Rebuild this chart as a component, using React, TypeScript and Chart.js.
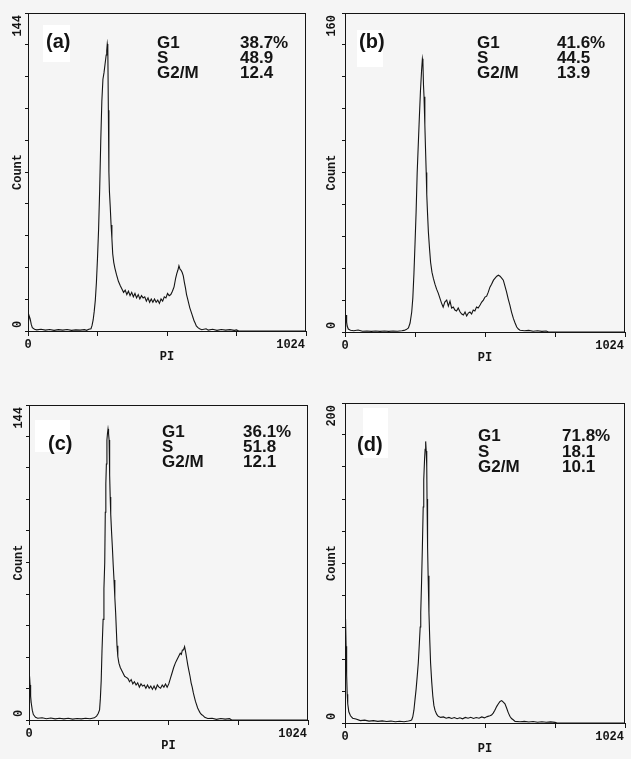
import React, { useEffect, useRef } from "react";
import { Chart, registerables } from "chart.js";

Chart.register(...registerables);

// ---------- DATA (channel, count) ----------
const histA: [number, number][] = [[0,2],[4,7],[8,5.5],[12,3],[16,1.5],[24,0.8],[32,0.5],[48,0.8],[64,0.4],[80,0.7],[96,0.3],[112,0.6],[128,0.4],[144,0.7],[160,0.3],[176,0.5],[192,0.4],[208,0.6],[216,0.3],[224,0.8],[232,1],[236,2.5],[240,5],[244,9],[248,14],[252,22],[256,33],[260,46],[264,64],[268,86],[272,104],[276,114],[280,117],[284,121],[288,125],[290,127],[292,130],[294,128],[296,100],[298,72],[300,63],[303,56],[306,48],[309,42],[312,35],[316,31],[320,28.5],[326,25.5],[333,22.5],[340,20.5],[346,19],[352,17.5],[358,18.5],[364,16.5],[370,18],[376,16],[382,17.5],[388,15.5],[394,17],[400,15],[406,16.5],[412,14.5],[418,16],[424,15],[430,15.5],[436,13.5],[442,15],[448,13],[454,14.5],[460,13],[466,14.5],[472,13],[478,14],[484,12.5],[490,14.5],[496,13.5],[502,15.5],[508,15],[514,17],[520,16],[526,16.5],[532,18],[538,20],[544,24],[548,26],[552,27.5],[556,29.5],[560,28],[564,27.5],[568,26.5],[572,25],[576,22],[580,19.5],[584,16.5],[588,14.5],[592,12.5],[596,10.5],[600,9],[604,7.5],[608,6],[612,4.5],[616,3.5],[620,2.3],[626,1.5],[632,1],[640,0.6],[656,1],[664,0.4],[680,0.8],[696,0.3],[712,0.7],[728,0.4],[744,0.6],[760,0.3],[768,0.5],[776,0],[1024,0]];

const histB: [number, number][] = [[0,1],[2,6],[4,8.5],[6,5],[8,3],[12,1.5],[20,0.9],[32,0.6],[48,1],[64,0.4],[80,0.5],[96,0.3],[112,0.5],[128,0.3],[144,0.5],[160,0.3],[176,0.5],[192,0.4],[208,0.6],[216,0.8],[224,1.2],[232,2],[238,4.5],[244,10],[248,17],[252,29],[256,44],[260,60],[264,80],[268,94],[272,108],[276,121],[280,131],[283,137],[285,135],[287,124],[289,118],[292,104],[294,94],[297,80],[299,69],[302,59],[305,50],[309,42],[313,35],[318,30],[323,27],[329,24],[335,21.5],[341,19.5],[347,17],[353,14.5],[359,12.5],[365,15],[372,16],[378,13],[384,15.5],[390,12],[396,12.5],[402,11],[408,10.5],[414,12],[421,10],[427,9],[433,8.5],[439,10],[445,8],[451,9.5],[457,10],[463,9],[469,11],[475,10.5],[481,12.5],[487,12],[494,13.5],[500,15],[506,16],[512,17.5],[518,18],[524,20],[530,22.5],[536,24],[543,26],[549,27],[555,28],[561,28.5],[567,28],[573,27],[579,26],[585,23],[591,20],[597,16.5],[603,13.5],[609,10],[616,6.7],[622,4.5],[628,2.5],[634,1.5],[640,0.9],[656,0.6],[672,0.8],[688,0.4],[704,0.6],[720,0.3],[736,0.5],[744,0],[1024,0]];

const histC: [number, number][] = [[0,8],[2,20],[4,16],[6,11],[8,8],[12,4.5],[16,2.5],[24,1.2],[32,0.8],[48,1],[64,0.6],[80,0.9],[96,0.5],[112,0.8],[128,0.5],[144,0.8],[160,0.4],[176,0.7],[192,0.5],[208,0.8],[224,0.6],[240,1],[248,1.8],[254,3],[259,4.6],[262,10],[265,18],[268,32],[272,46],[275,60],[278,72],[280,95],[282,108],[284,117],[286,128],[288,131],[290,133],[292,131],[294,128],[296,112],[298,102],[300,94],[303,86],[306,79],[309,71],[312,64],[315,56],[318,49],[321,40],[323,34],[326,29],[330,26],[335,24],[339,23],[345,21.5],[351,20],[357,19.5],[363,19],[369,17.5],[375,18.5],[381,16.5],[387,17.5],[393,16],[399,17],[405,15],[411,16.5],[417,15.5],[423,16],[429,14.5],[435,16],[441,14.5],[447,15.5],[453,14],[459,15.5],[465,14],[471,16],[477,15],[483,14.5],[489,16],[495,15],[501,16.5],[507,15],[513,16.5],[519,19],[525,21.5],[531,24],[537,26],[543,27.5],[549,29],[555,30.5],[559,30],[563,32],[567,32],[571,33.5],[575,31],[579,28],[583,25],[587,22.5],[591,20],[595,17],[599,15],[603,12.5],[607,10.5],[611,8.5],[615,7],[619,5.5],[623,4.5],[627,3.5],[633,2.5],[639,2],[645,1.2],[656,0.7],[672,0.8],[688,0.3],[704,0.7],[720,0.4],[736,0.6],[744,0],[1024,0]];

const histD: [number, number][] = [[0,60],[2,65],[4,48],[6,30],[8,18],[10,12],[14,7],[20,4.5],[28,3],[40,2.5],[56,1.5],[72,1.8],[88,1.2],[104,1.5],[120,1],[136,1.3],[152,0.9],[168,1.2],[184,0.8],[200,1.1],[216,0.8],[232,1.2],[240,1.5],[244,2],[248,4],[252,8],[256,14.6],[260,21],[264,29],[268,37.5],[272,50],[275,60],[277,69],[280,88],[283,110],[286,135],[288,152],[291,165],[293,171],[295,176],[297,170],[299,160],[300,140],[302,110],[304,92],[307,69],[310,52],[313,37.5],[317,26],[321,17],[325,11],[329,8],[335,5.5],[341,4.2],[350,3.5],[360,3.8],[370,3],[380,3.5],[390,2.8],[400,3.4],[410,2.7],[420,3.3],[430,2.6],[440,3.5],[450,3],[460,3.6],[470,2.8],[480,3.4],[490,3],[500,3.8],[510,3.2],[520,4],[530,4.5],[536,5],[542,6.2],[548,8],[555,10.4],[561,12],[567,13.5],[573,14],[579,13],[585,12],[591,9.4],[597,6.5],[603,4.2],[609,2.8],[615,2],[622,1],[640,0.8],[656,1],[672,0.6],[688,0.9],[704,0.5],[720,0.8],[736,0.5],[752,0.7],[768,0.4],[776,0],[1024,0]];

const histograms = [histA, histB, histC, histD];
const panelLetters = ["(a)", "(b)", "(c)", "(d)"];
const yMaxValues = [144, 160, 144, 200];
const phaseNames = ["G1", "S", "G2/M"];
const g1Values = ["38.7%", "41.6%", "36.1%", "71.8%"];
const sValues = ["48.9", "44.5", "51.8", "18.1"];
const g2mValues = ["12.4", "13.9", "12.1", "10.1"];
const xTickValues = [0, 256, 512, 768, 1024];
const X_MIN = 0;
const X_MAX = 1024;
const xAxisTitle = "PI";
const yAxisTitle = "Count";

// ---------- LAYOUT / STYLE ----------
const INK = "#141414";
const BG = "#f5f5f5";
const AXIS_W = 28;
const TOP_PAD = 13;
const RIGHT_PAD = 9;
const X_AXIS_H = 39;
const MONO = '"Liberation Mono", "DejaVu Sans Mono", monospace';
const SANS = '"Liberation Sans", Arial, sans-serif';

const PANEL_BOXES = [
  { left: 28, top: 13, right: 306, bottom: 331 },
  { left: 345, top: 13, right: 625, bottom: 332 },
  { left: 29, top: 405, right: 308, bottom: 720 },
  { left: 345, top: 403, right: 625, bottom: 723 },
];

const DECOR = [
  { letterX: 18, letterY: 35, patch: [15, 12, 27, 37], statX: 129, valX: 212, rows: [35, 50, 65], axisX: -10 },
  { letterX: 14, letterY: 35, patch: [12, 17, 26, 37], statX: 132, valX: 212, rows: [35, 50, 65], axisX: -13 },
  { letterX: 19, letterY: 45, patch: [6, 15, 35, 32], statX: 133, valX: 214, rows: [32, 47, 62], axisX: -10 },
  { letterX: 12, letterY: 48, patch: [18, 5, 25, 50], statX: 133, valX: 217, rows: [38, 53.5, 69], axisX: -13 },
];

function Panel({ idx }: { idx: number }) {
  const ref = useRef<HTMLCanvasElement>(null);
  const box = PANEL_BOXES[idx];
  const width = box.right - box.left + AXIS_W + RIGHT_PAD;
  const height = box.bottom - box.top + TOP_PAD + X_AXIS_H;
  const canvasLeft = box.left - AXIS_W;
  const canvasTop = box.top - TOP_PAD;

  useEffect(() => {
    const yMax = yMaxValues[idx];
    const d = DECOR[idx];
    const stats = [g1Values[idx], sValues[idx], g2mValues[idx]];

    const decorPlugin = {
      id: "panelDecor" + idx,
      beforeDatasetsDraw(chart: any) {
        const { ctx, chartArea } = chart;
        const [px, py, pw, ph] = d.patch;
        ctx.save();
        ctx.fillStyle = "#ffffff";
        ctx.fillRect(chartArea.left + px, chartArea.top + py, pw, ph);
        ctx.restore();
      },
      afterDraw(chart: any) {
        const { ctx, chartArea } = chart;
        const { left, top, right, bottom } = chartArea;
        const xs = chart.scales.x;
        const ys = chart.scales.y;
        ctx.save();
        // frame (top + right)
        ctx.strokeStyle = INK;
        ctx.lineWidth = 1;
        ctx.beginPath();
        ctx.moveTo(left, Math.round(top) + 0.5);
        ctx.lineTo(right, Math.round(top) + 0.5);
        ctx.moveTo(Math.round(right) - 0.5, top);
        ctx.lineTo(Math.round(right) - 0.5, bottom);
        ctx.stroke();

        // tick labels
        ctx.fillStyle = INK;
        ctx.font = `bold 12px ${MONO}`;
        ctx.textBaseline = "middle";
        ctx.textAlign = "center";
        ctx.fillText(String(X_MIN), xs.getPixelForValue(X_MIN), bottom + 14);
        ctx.textAlign = "right";
        ctx.fillText(String(X_MAX), xs.getPixelForValue(X_MAX) - 1, bottom + 14);

        ctx.save();
        ctx.translate(left + d.axisX, ys.getPixelForValue(yMax) + 2);
        ctx.rotate(-Math.PI / 2);
        ctx.textAlign = "right";
        ctx.fillText(String(yMax), 0, 0);
        ctx.restore();

        ctx.save();
        ctx.translate(left + d.axisX, ys.getPixelForValue(0) - 3);
        ctx.rotate(-Math.PI / 2);
        ctx.textAlign = "left";
        ctx.fillText("0", 0, 0);
        ctx.restore();

        // panel letter
        ctx.textBaseline = "alphabetic";
        ctx.textAlign = "left";
        ctx.font = `bold 20px ${SANS}`;
        ctx.fillText(panelLetters[idx], left + d.letterX, top + d.letterY);

        // phase stats
        ctx.font = `bold 17px ${SANS}`;
        for (let i = 0; i < phaseNames.length; i++) {
          ctx.fillText(phaseNames[i], left + d.statX, top + d.rows[i]);
          ctx.fillText(stats[i], left + d.valX, top + d.rows[i]);
        }
        ctx.restore();
      },
    };

    const chart = new Chart(ref.current as HTMLCanvasElement, {
      type: "line",
      data: {
        datasets: [
          {
            data: histograms[idx].map(([x, y]) => ({ x, y })),
            borderColor: INK,
            borderWidth: 1.1,
            pointRadius: 0,
            fill: false,
            tension: 0,
          },
        ],
      },
      options: {
        animation: false,
        responsive: false,
        maintainAspectRatio: false,
        devicePixelRatio: 1,
        layout: { padding: { left: 0, top: TOP_PAD, right: RIGHT_PAD, bottom: 0 } },
        plugins: { legend: { display: false }, tooltip: { enabled: false } },
        scales: {
          x: {
            type: "linear",
            min: X_MIN,
            max: X_MAX,
            afterBuildTicks: (s: any) => {
              s.ticks = xTickValues.map((v) => ({ value: v }));
            },
            afterFit: (s: any) => {
              s.height = X_AXIS_H;
            },
            ticks: { display: false },
            grid: { display: true, drawOnChartArea: false, drawTicks: true, tickLength: 5, color: INK, lineWidth: 1 },
            border: { display: true, color: INK, width: 1 },
            title: {
              display: true,
              text: xAxisTitle,
              color: INK,
              font: { family: MONO, size: 12, weight: "bold" },
              padding: { top: 0, bottom: 6 },
            },
          },
          y: {
            type: "linear",
            min: 0,
            max: yMax,
            afterBuildTicks: (s: any) => {
              const t = [];
              for (let k = 0; k <= 10; k++) t.push({ value: (yMax * k) / 10 });
              s.ticks = t;
            },
            afterFit: (s: any) => {
              s.width = AXIS_W;
            },
            ticks: { display: false },
            grid: { display: true, drawOnChartArea: false, drawTicks: true, tickLength: 3, color: INK, lineWidth: 1 },
            border: { display: true, color: INK, width: 1 },
            title: {
              display: true,
              text: yAxisTitle,
              color: INK,
              font: { family: MONO, size: 12, weight: "bold" },
              padding: { top: 21 + d.axisX, bottom: 0 },
            },
          },
        },
      },
      plugins: [decorPlugin],
    } as any);
    return () => chart.destroy();
  }, [idx]);

  return (
    <canvas
      ref={ref}
      width={width}
      height={height}
      style={{ position: "absolute", left: canvasLeft, top: canvasTop, width, height }}
    />
  );
}

export default function App() {
  return (
    <div
      style={{
        position: "absolute",
        left: 0,
        top: 0,
        width: 631,
        height: 759,
        background: BG,
        overflow: "hidden",
      }}
    >
      {[0, 1, 2, 3].map((i) => (
        <Panel key={i} idx={i} />
      ))}
    </div>
  );
}
